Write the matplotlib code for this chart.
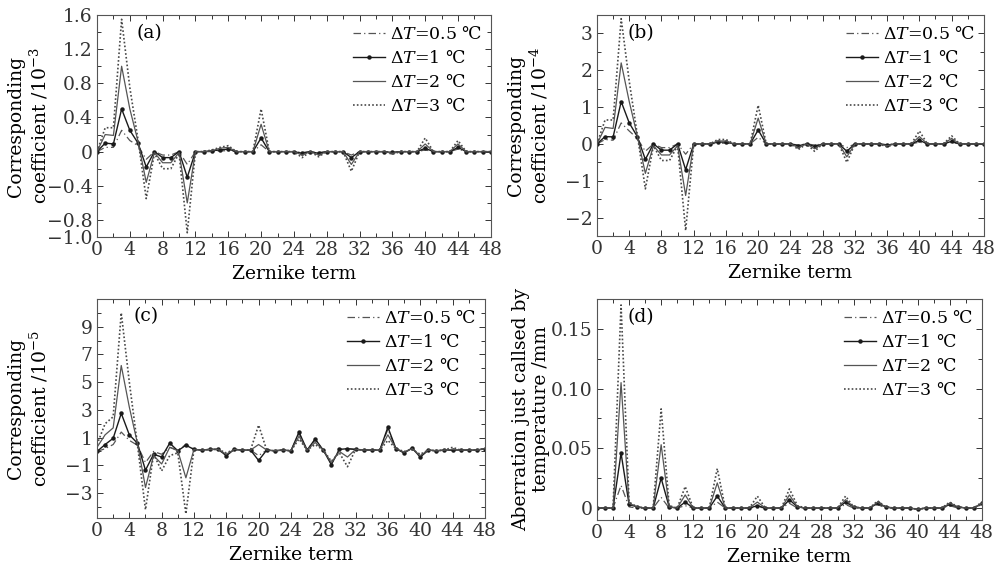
import numpy as np
import matplotlib
matplotlib.use("Agg")
import matplotlib.pyplot as plt
from matplotlib.ticker import MultipleLocator

plt.rcParams['font.family'] = ['DejaVu Serif', 'DejaVu Sans']
plt.rcParams['mathtext.fontset'] = 'dejavuserif'
plt.rcParams['font.size'] = 13

# Zernike term index
terms = list(range(49))
series_labels = [r'$\Delta T$=0.5 ℃', r'$\Delta T$=1 ℃', r'$\Delta T$=2 ℃', r'$\Delta T$=3 ℃']

# (a) coefficient /1e-3
a_05 = [0, 0.05, 0.05, 0.25, 0.13, 0.07, -0.09, 0.0, -0.04, -0.04,
        0.0, -0.15, 0.0, 0.0, 0.0, 0.01, 0.01, 0.0, 0.0, 0.0,
        0.08, 0.0, 0.0, 0.0, 0.0, -0.01, 0.0, -0.01, 0.0, 0.0,
        0.0, -0.04, 0.0, 0.0, 0.0, 0.0, -0.01, 0.0, 0.0, 0.0,
        0.02, 0.0, 0.0, 0.0, 0.03, 0.0, 0.0, 0.0, 0.0]
a_1 = [0, 0.10, 0.09, 0.50, 0.25, 0.10, -0.18, 0.0, -0.07, -0.07,
       0.0, -0.30, 0.0, 0.0, 0.01, 0.02, 0.03, 0.0, 0.0, 0.0,
       0.16, 0.0, 0.0, 0.0, 0.0, -0.02, 0.0, -0.02, 0.0, 0.0,
       0.0, -0.07, 0.0, 0.0, 0.0, 0.0, -0.01, 0.0, 0.0, 0.0,
       0.04, 0.0, 0.0, 0.0, 0.05, 0.0, 0.0, 0.0, 0.0]
a_2 = [0, 0.20, 0.19, 1.00, 0.50, 0.12, -0.36, -0.01, -0.13, -0.13,
       -0.01, -0.60, 0.0, 0.0, 0.01, 0.04, 0.05, 0.0, 0.0, 0.0,
       0.32, 0.0, 0.0, 0.0, 0.0, -0.04, 0.0, -0.04, 0.0, 0.0,
       0.0, -0.15, 0.0, 0.0, 0.0, 0.0, -0.02, 0.0, 0.0, 0.0,
       0.09, 0.0, 0.0, 0.0, 0.09, 0.0, 0.0, 0.0, 0.0]
a_3 = [0, 0.28, 0.28, 1.55, 0.75, 0.14, -0.55, -0.02, -0.20, -0.20,
       -0.02, -0.95, 0.0, 0.0, 0.02, 0.05, 0.07, 0.0, 0.0, 0.0,
       0.50, 0.0, 0.0, 0.0, 0.0, -0.07, 0.0, -0.06, 0.0, 0.0,
       0.0, -0.23, 0.0, 0.0, 0.0, 0.0, -0.03, 0.0, 0.0, 0.0,
       0.16, 0.0, 0.0, 0.0, 0.13, 0.0, 0.0, 0.0, 0.0]
a_ticks = [-1.0, -0.8, -0.4, 0, 0.4, 0.8, 1.2, 1.6]
a_ticklabels = ['\u22121.0', '\u22120.8', '\u22120.4', '0', '0.4', '0.8', '1.2', '1.6']

# (b) coefficient /1e-4
b_05 = [0, 0.12, 0.10, 0.57, 0.35, 0.15, -0.20, 0.0, -0.10, -0.10,
        0.0, -0.28, 0.0, 0.0, 0.0, 0.02, 0.02, 0.0, 0.0, 0.0,
        0.18, 0.0, 0.0, 0.0, 0.0, -0.03, 0.0, -0.03, 0.0, 0.0,
        0.0, -0.10, 0.0, 0.0, 0.0, 0.0, -0.02, 0.0, 0.0, 0.0,
        0.05, 0.0, 0.0, 0.0, 0.04, 0.0, 0.0, 0.0, 0.0]
b_1 = [0, 0.20, 0.19, 1.15, 0.57, 0.20, -0.42, 0.0, -0.17, -0.17,
       0.0, -0.70, 0.0, 0.0, 0.0, 0.05, 0.05, 0.0, 0.0, 0.0,
       0.38, 0.0, 0.0, 0.0, 0.0, -0.05, 0.0, -0.07, 0.0, 0.0,
       0.0, -0.20, 0.0, 0.0, 0.0, 0.0, -0.03, 0.0, 0.0, 0.0,
       0.10, 0.0, 0.0, 0.0, 0.07, 0.0, 0.0, 0.0, 0.0]
b_2 = [0, 0.45, 0.42, 2.20, 1.15, 0.22, -0.80, -0.05, -0.30, -0.30,
       -0.05, -1.40, 0.0, 0.0, 0.0, 0.08, 0.08, 0.0, 0.0, 0.0,
       0.70, 0.0, 0.0, 0.0, 0.0, -0.10, 0.0, -0.13, 0.0, 0.0,
       0.0, -0.35, 0.0, 0.0, 0.0, 0.0, -0.05, 0.0, 0.0, 0.0,
       0.20, 0.0, 0.0, 0.0, 0.15, 0.0, 0.0, 0.0, 0.0]
b_3 = [0, 0.65, 0.65, 3.40, 1.70, 0.25, -1.22, -0.05, -0.45, -0.45,
       -0.05, -2.35, 0.0, 0.0, 0.0, 0.12, 0.12, 0.0, 0.0, 0.0,
       1.05, 0.0, 0.0, 0.0, 0.0, -0.15, 0.0, -0.20, 0.0, 0.0,
       0.0, -0.50, 0.0, 0.0, 0.0, 0.0, -0.08, 0.0, 0.0, 0.0,
       0.35, 0.0, 0.0, 0.0, 0.22, 0.0, 0.0, 0.0, 0.0]
b_ticks = [-2, -1, 0, 1, 2, 3]
b_ticklabels = ['\u22122', '\u22121', '0', '1', '2', '3']

# (c) coefficient /1e-5
c_05 = [0.0, 0.2, 0.5, 1.4, 0.8, 0.45, -0.8, 0.0, -0.2, 0.3,
        0.1, 0.5, 0.15, 0.1, 0.15, 0.15, -0.3, 0.15, 0.1, 0.1,
        -0.3, 0.1, 0.05, 0.1, 0.05, 1.3, 0.1, 0.85, 0.1, -0.9,
        0.15, 0.2, 0.15, 0.1, 0.1, 0.1, 1.6, 0.2, -0.1, 0.25,
        -0.4, 0.1, 0.05, 0.1, 0.1, 0.1, 0.1, 0.1, 0.2]
c_1 = [0.0, 0.5, 0.95, 2.75, 1.2, 0.6, -1.35, -0.2, -0.4, 0.6,
       0.05, 0.45, 0.15, 0.1, 0.15, 0.15, -0.3, 0.15, 0.1, 0.1,
       -0.65, 0.1, 0.05, 0.1, 0.05, 1.4, 0.1, 0.9, 0.1, -0.95,
       0.15, 0.2, 0.15, 0.1, 0.1, 0.1, 1.75, 0.2, -0.1, 0.25,
       -0.4, 0.1, 0.05, 0.1, 0.1, 0.1, 0.1, 0.1, 0.2]
c_2 = [0.3, 1.2, 1.7, 6.2, 3.2, 0.6, -2.6, -0.3, -0.9, 0.3,
       0.05, -1.9, 0.15, 0.1, 0.15, 0.15, -0.2, 0.15, 0.1, 0.1,
       0.5, 0.1, 0.05, 0.1, 0.05, 1.1, 0.1, 0.65, 0.1, -0.8,
       0.0, -0.4, 0.15, 0.1, 0.1, 0.1, 1.2, 0.2, -0.05, 0.2,
       -0.3, 0.1, 0.05, 0.1, 0.15, 0.1, 0.1, 0.1, 0.2]
c_3 = [0.5, 2.0, 2.5, 10.0, 5.0, 0.5, -4.2, -0.2, -1.4, -0.3,
       -0.1, -4.5, 0.15, 0.1, 0.15, 0.15, -0.1, 0.15, 0.1, 0.1,
       1.9, 0.1, 0.05, 0.1, 0.05, 0.9, 0.1, 0.5, 0.1, -0.7,
       -0.1, -1.1, 0.15, 0.1, 0.1, 0.1, 0.8, 0.2, 0.0, 0.15,
       -0.2, 0.1, 0.05, 0.1, 0.3, 0.1, 0.1, 0.1, 0.2]
c_ticks = [-3, -1, 1, 3, 5, 7, 9]
c_ticklabels = ['\u22123', '\u22121', '1', '3', '5', '7', '9']

# (d) aberration /mm
d_05 = [0, 0, 0, 0.019, 0.001, 0, 0, 0, 0.009, 0,
        0, 0.002, 0, 0, 0, 0.005, 0, 0, 0, 0,
        0.001, 0, 0, 0, 0.004, 0, 0, 0, 0, 0,
        0, 0.003, 0, 0, 0, 0.003, 0, 0, 0, 0,
        -0.001, 0, 0, 0, 0.002, 0, 0, 0, 0.003]
d_1 = [0, 0, 0, 0.046, 0.003, 0.001, 0, 0, 0.025, 0.001,
       0, 0.005, 0, 0, 0, 0.010, 0, 0, 0, 0,
       0.002, 0, 0, 0, 0.007, 0.001, 0, 0, 0, 0,
       0, 0.005, 0.001, 0, 0, 0.004, 0.001, 0, 0, 0,
       -0.001, 0, 0, 0, 0.003, 0.001, 0, 0, 0.004]
d_2 = [0, 0, 0, 0.105, 0.004, 0.001, 0, 0, 0.053, 0.001,
       0, 0.011, 0, 0, 0, 0.021, 0, 0, 0, 0,
       0.005, 0, 0, 0, 0.011, 0.001, 0, 0, 0, 0,
       0, 0.007, 0.001, 0, 0, 0.005, 0.001, 0, 0, 0,
       -0.001, 0, 0, 0, 0.004, 0.001, 0, 0, 0.004]
d_3 = [0, 0, 0, 0.170, 0.005, 0.001, 0, 0, 0.083, 0.002,
       0, 0.018, 0, 0, 0, 0.033, 0, 0, 0, 0,
       0.010, 0, 0, 0, 0.016, 0.002, 0, 0, 0, 0,
       0, 0.010, 0.001, 0, 0, 0.006, 0.001, 0, 0, 0,
       -0.001, 0, 0, 0, 0.005, 0.001, 0, 0, 0.005]
d_ticks = [0, 0.05, 0.10, 0.15]
d_ticklabels = ['0', '0.05', '0.10', '0.15']

styles = [
    dict(color='#555555', lw=0.9, ls=(0, (6, 2.5, 1, 2.5))),
    dict(color='#1a1a1a', lw=1.0, ls='-', marker='o', ms=2.2),
    dict(color='#555555', lw=0.9, ls='-'),
    dict(color='#484848', lw=1.2, ls=(0, (1, 1.3))),
]

panels = [
    dict(rect=[0.0973, 0.5849, 0.395, 0.3888], data=[a_05, a_1, a_2, a_3],
         ylim=(-1.0, 1.6), ticks=a_ticks, labels=a_ticklabels, minor=0.2,
         tag='(a)', tagpos=(0.10, 0.92), ylabel='Corresponding\ncoefficient /10$^{-3}$'),
    dict(rect=[0.5988, 0.5867, 0.388, 0.387], data=[b_05, b_1, b_2, b_3],
         ylim=(-2.5, 3.5), ticks=b_ticks, labels=b_ticklabels, minor=0.5,
         tag='(b)', tagpos=(0.08, 0.92), ylabel='Corresponding\ncoefficient /10$^{-4}$'),
    dict(rect=[0.0973, 0.0928, 0.389, 0.3836], data=[c_05, c_1, c_2, c_3],
         ylim=(-4.8, 11.0), ticks=c_ticks, labels=c_ticklabels, minor=1,
         tag='(c)', tagpos=(0.093, 0.92), ylabel='Corresponding\ncoefficient /10$^{-5}$'),
    dict(rect=[0.5988, 0.0893, 0.386, 0.3871], data=[d_05, d_1, d_2, d_3],
         ylim=(-0.01, 0.175), ticks=d_ticks, labels=d_ticklabels, minor=0.025,
         tag='(d)', tagpos=(0.08, 0.92), ylabel='Aberration just callsed by\ntemperature /mm'),
]

fig = plt.figure(figsize=(9.97, 5.71), dpi=100)

for p in panels:
    ax = fig.add_axes(p['rect'])
    for vals, st, lab in zip(p['data'], styles, series_labels):
        ax.plot(terms, vals, label=lab, **st)
    ax.set_xlim(0, 48)
    ax.set_ylim(*p['ylim'])
    ax.xaxis.set_major_locator(MultipleLocator(4))
    ax.xaxis.set_minor_locator(MultipleLocator(2))
    ax.set_yticks(p['ticks'])
    ax.set_yticklabels(p['labels'])
    ax.yaxis.set_minor_locator(MultipleLocator(p['minor']))
    ax.tick_params(which='both', direction='in', top=True, right=True,
                   labelsize=13.5, width=0.7, colors='#333333')
    ax.tick_params(which='major', length=4, pad=3)
    ax.tick_params(which='minor', length=3)
    for sp in ax.spines.values():
        sp.set_linewidth(0.8)
        sp.set_color('#555555')
    ax.set_xlabel('Zernike term', fontsize=13.5, labelpad=4)
    ax.set_ylabel(p['ylabel'], fontsize=13.5, linespacing=1.15)
    w_px = p['rect'][2] * 997
    ax.yaxis.set_label_coords(-47 / w_px, 0.5)
    ax.text(p['tagpos'][0], p['tagpos'][1], p['tag'], transform=ax.transAxes,
            fontsize=13.5, va='center', ha='left')
    ax.legend(loc='upper right', bbox_to_anchor=(1.0, 0.99), frameon=False,
              fontsize=12.5, handlelength=1.8, handletextpad=0.3,
              labelspacing=0.4, borderaxespad=0.2, borderpad=0.3)

fig.savefig('out.png', dpi=100)
